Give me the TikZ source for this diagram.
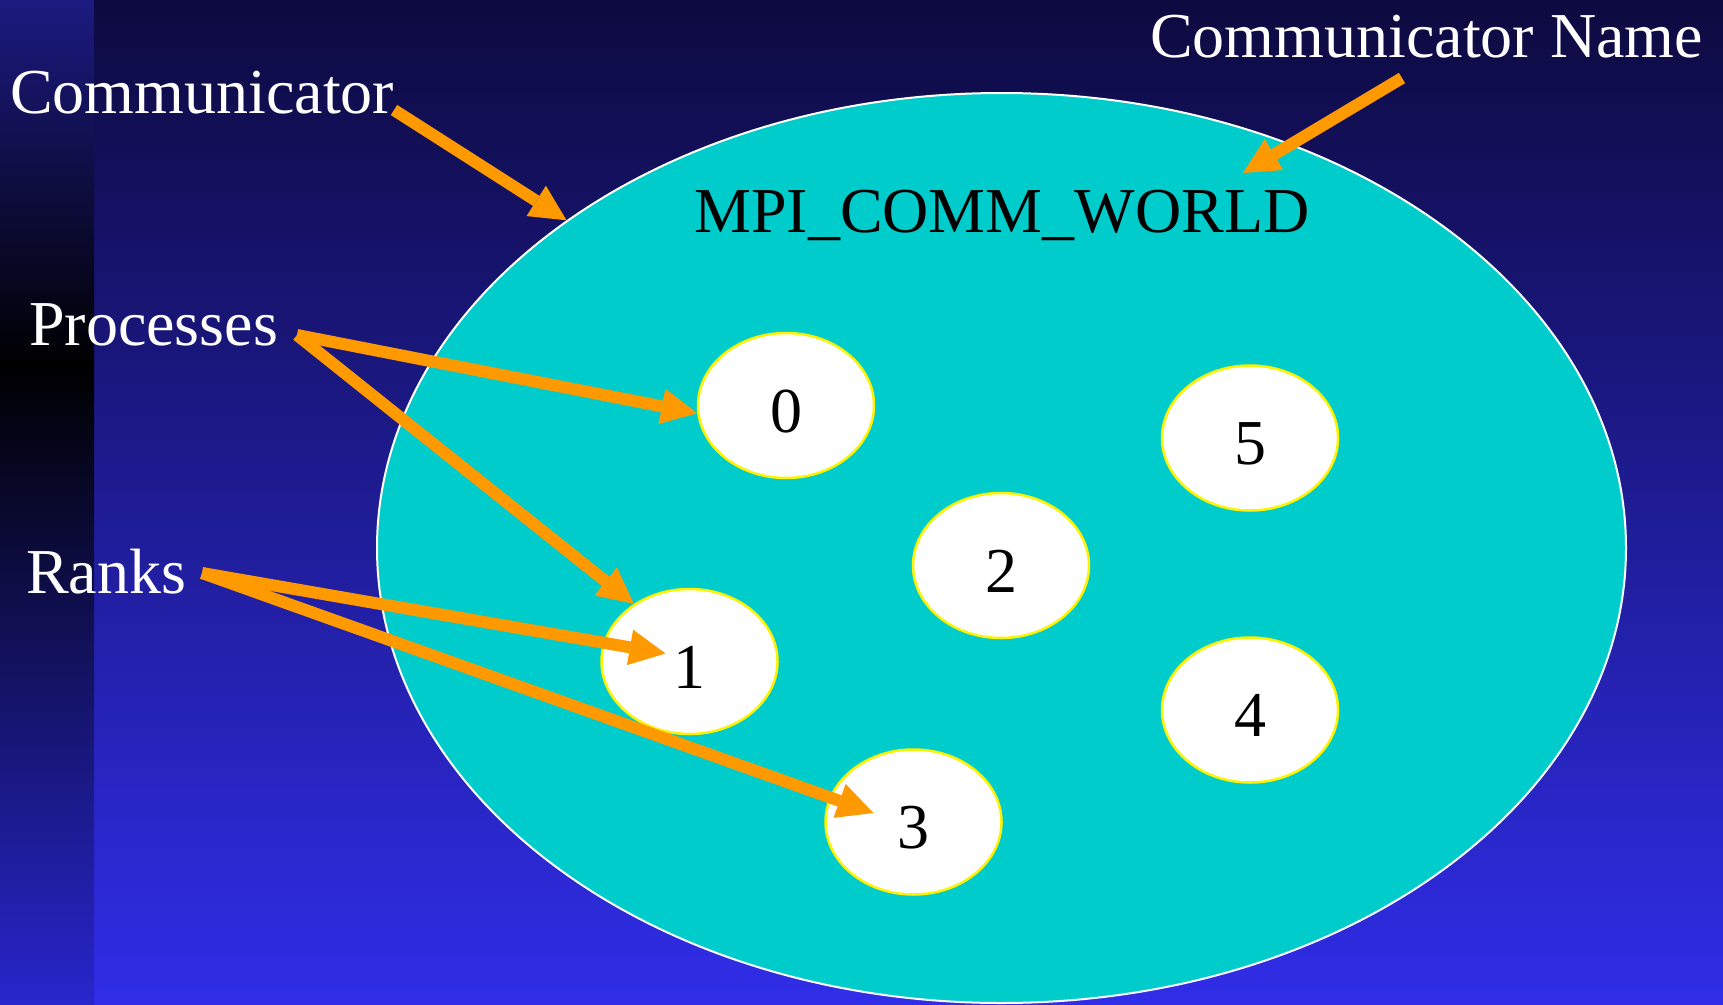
\documentclass[tikz,border=0pt]{standalone}
\usepackage{fontspec}
\setmainfont{Liberation Serif}
\usepackage{xcolor}
\usetikzlibrary{arrows.meta,shapes.geometric}
\definecolor{bgtop}{RGB}{13,10,64}
\definecolor{bgbot}{RGB}{48,45,232}
\definecolor{striptop}{RGB}{28,26,128}
\definecolor{stripbot}{RGB}{40,38,204}
\definecolor{commfill}{RGB}{0,204,204}
\definecolor{pointerorange}{RGB}{255,153,0}

\begin{document}
\begin{tikzpicture}[x=1pt,y=-1pt,
  heading/.style={anchor=base west,inner sep=0pt,text=white,font=\fontsize{64}{77}\selectfont},
  proc/.style={ellipse,draw=yellow,line width=2.5pt,fill=white,minimum width=176pt,minimum height=145pt,
    inner sep=0pt,text height=53pt,text depth=0pt,font=\fontsize{64}{77}\selectfont},
  pointer/.style={draw=pointerorange,line width=12pt,-{Triangle[length=36pt,width=36pt,line width=0pt]}}]
  \useasboundingbox (0,0) rectangle (1723,1004);
  % background and side strip
  \shade[top color=bgtop,bottom color=bgbot] (0,0) rectangle (1723,1004);
  \shade[top color=striptop,bottom color=black] (0,0) rectangle (94,365);
  \shade[top color=black,bottom color=stripbot] (0,365) rectangle (94,1004);
  % communicator
  \node[ellipse,fill=commfill,draw=white,line width=2pt,minimum width=1249pt,minimum height=910pt] (world) at (1001.5,548) {};
  \node[heading,text=black] (mpi) at (694,232) {MPI\_COMM\_WORLD};
  \foreach \n/\x/\y in {0/786/405.5,1/689.5/661.5,2/1001/565.5,3/913.5/822,4/1250/710,5/1250/438}
    \node[proc] (p\n) at (\x,\y) {\n};
  % labels
  \node[heading] (comm) at (10,113) {Communicator};
  \node[heading] (commname) at (1150,57) {Communicator Name};
  \node[heading] (processes) at (29,345) {Processes};
  \node[heading] (ranks) at (26,593) {Ranks};
  \coordinate (commtail) at (394,110);
  \coordinate (nametail) at (1402,78);
  \coordinate (nametip) at (1243,173);
  \coordinate (proctail) at (297,335);
  \coordinate (ranktail) at (202,573);
  % arrows
  \draw[pointer] (commtail) -- (world.143);
  \draw[pointer] (nametail) -- (nametip);
  \draw[pointer] (proctail) -- (p0.185);
  \draw[pointer] (proctail) -- (p1.134);
  \draw[pointer] (ranktail) -- ([xshift=-24pt,yshift=8pt]p1.center);
  \draw[pointer] (ranktail) -- ([xshift=-40pt,yshift=9pt]p3.center);
\end{tikzpicture}
\end{document}
